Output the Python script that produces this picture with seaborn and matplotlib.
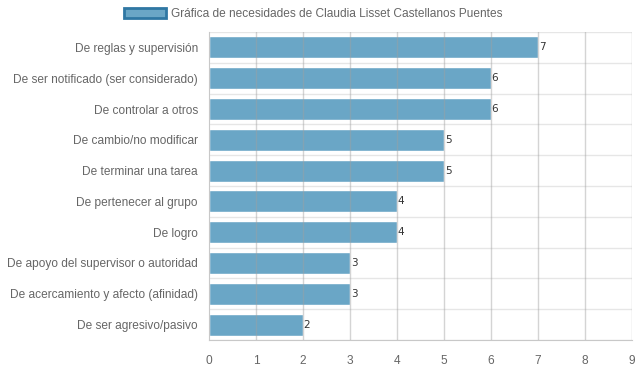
import matplotlib
matplotlib.use("Agg")
import matplotlib.pyplot as plt
import seaborn as sns
import pandas as pd
from matplotlib.patches import Patch

categories = [
    "De reglas y supervisión",
    "De ser notificado (ser considerado)",
    "De controlar a otros",
    "De cambio/no modificar",
    "De terminar una tarea",
    "De pertenecer al grupo",
    "De logro",
    "De apoyo del supervisor o autoridad",
    "De acercamiento y afecto (afinidad)",
    "De ser agresivo/pasivo",
]
values = [7, 6, 6, 5, 5, 4, 4, 3, 3, 2]
legend_label = "Gráfica de necesidades de Claudia Lisset Castellanos Puentes"

df = pd.DataFrame({"cat": categories, "val": values})

sns.set_style("white")
plt.rcParams["font.family"] = ["Liberation Sans", "DejaVu Sans"]

fig = plt.figure(figsize=(6.39, 3.72), dpi=100)
ax = fig.add_axes([209/639, 1-340/372, (632-209)/639, (340-32)/372])

bar_color = "#6aa6c6"
sns.barplot(data=df, x="val", y="cat", orient="h", color=bar_color,
            saturation=1, width=0.71, ax=ax, zorder=2)

ax.set_xlim(0, 9)
ax.set_ylim(len(categories)-0.5, -0.5)
ax.set_xticks(range(0, 10))
ax.set_xlabel("")
ax.set_ylabel("")

# grid
for x in range(1, 10):
    ax.axvline(x, color="#a0a0a0", alpha=0.45, lw=1, zorder=3)
for i in range(len(categories)+1):
    ax.axhline(i-0.5, color="#e6e6e6", lw=1, zorder=1)

ax.set_yticks(range(len(categories)))
ax.set_yticklabels(categories)
ax.set_yticks([i-0.5 for i in range(len(categories)+1)], minor=True)
ax.tick_params(axis="y", which="major", length=0, pad=8, labelsize=8.6, labelcolor="#666666")
ax.tick_params(axis="y", which="minor", length=8, color="#e6e6e6", width=1)
ax.tick_params(axis="x", which="major", length=8, color="#cccccc", width=1,
               labelsize=8.6, labelcolor="#666666", pad=3)

for s in ["top", "right"]:
    ax.spines[s].set_visible(False)
ax.spines["left"].set_color("#c8c8c8")
ax.spines["bottom"].set_color("#c8c8c8")

for c in ax.containers:
    ax.bar_label(c, labels=[str(v) for v in values], padding=0.5,
                 fontsize=7.5, color="#333333", family="DejaVu Sans")

handle = Patch(facecolor=bar_color, edgecolor="#2f77a3", linewidth=2)
fig.legend([handle], [legend_label], loc="center", bbox_to_anchor=(313/639, 1-14/372),
           frameon=False, fontsize=8.6, labelcolor="#666666",
           handlelength=3.5, handleheight=1.0, handletextpad=0.4)

fig.savefig("out.png", dpi=100)
